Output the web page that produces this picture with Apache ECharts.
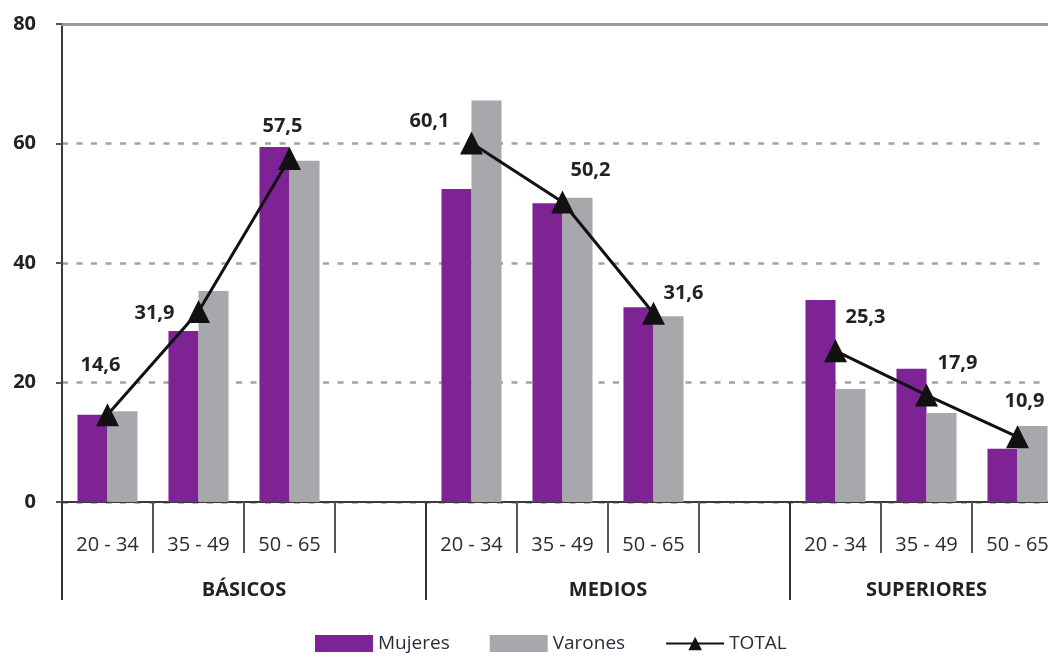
<!DOCTYPE html>
<html>
<head>
<meta charset="utf-8">
<script src="https://cdn.jsdelivr.net/npm/echarts@6/dist/echarts.min.js"></script>
<style>
  html, body { margin: 0; padding: 0; background: #fff; }
  #chart { width: 1048px; height: 659px; }
</style>
</head>
<body>
<div id="chart"></div>
<script>
// age bands per slot, an empty slot separates the groups
var ageSlots = ['20 - 34', '35 - 49', '50 - 65', '', '20 - 34', '35 - 49', '50 - 65', '', '20 - 34', '35 - 49', '50 - 65'];
var groups = ['BÁSICOS', 'MEDIOS', 'SUPERIORES'];
var yTicks = [0, 20, 40, 60, 80];

var mujeres = [14.6, 28.6, 59.4, null, 52.4, 50.0, 32.6, null, 33.8, 22.3, 8.9];
var varones = [15.2, 35.3, 57.1, null, 67.2, 50.9, 31.1, null, 18.9, 14.9, 12.7];
var total   = [14.6, 31.9, 57.5, null, 60.1, 50.2, 31.6, null, 25.3, 17.9, 10.9];

// where each TOTAL label sits relative to its marker
var labelOffsets = [[-7, -49], [-44, 2], [-7, -32], null, [-42, -22], [28, -32], [30, -20], null, [30, -34], [31, -32], [7, -36]];

var myChart = echarts.init(document.getElementById('chart'));

// second axis uses half slots so the group names land between slots
var groupSlots = [];
for (var i = 0; i <= ageSlots.length * 2; i++) groupSlots.push('');
groupSlots[4] = groups[0];
groupSlots[12] = groups[1];
groupSlots[19] = groups[2];
var groupTicks = [0, 8, 16, 22];

var totalData = total.map(function (v, i) {
    if (v === null) return '-';
    return { value: v, label: { offset: labelOffsets[i] } };
});

var font = 'Open Sans';

var option = {
    animation: false,
    textStyle: { fontFamily: font },
    grid: { left: 62, right: -15, top: 24, bottom: 157, outerBoundsMode: 'none', containLabel: false },
    legend: {
        bottom: 1,
        left: 310,
        itemWidth: 58,
        itemHeight: 17,
        itemGap: 40,
        textStyle: { fontSize: 19, color: '#2a2a3a', fontFamily: font },
        data: [
            { name: 'Mujeres', icon: 'rect' },
            { name: 'Varones', icon: 'rect' },
            { name: 'TOTAL' }
        ]
    },
    xAxis: [
        {
            type: 'category',
            data: ageSlots,
            position: 'bottom',
            axisLine: { lineStyle: { color: '#3a3a3a', width: 2 } },
            axisTick: { show: true, interval: 0, length: 51, lineStyle: { color: '#555', width: 2 } },
            axisLabel: { interval: 0, margin: 33, fontSize: 20, color: '#2a2a3a' }
        },
        {
            type: 'category',
            data: groupSlots,
            position: 'bottom',
            boundaryGap: false,
            axisLine: { show: false },
            axisTick: {
                show: true,
                length: 98,
                interval: function (idx) { return groupTicks.indexOf(idx) >= 0; },
                lineStyle: { color: '#333', width: 2 }
            },
            axisLabel: { interval: 0, margin: 78, fontSize: 20, fontWeight: 'bold', color: '#222' }
        },
        {
            type: 'category',
            data: ageSlots,
            position: 'top',
            axisLine: { lineStyle: { color: '#9a9a9a', width: 3 } },
            axisTick: { show: false },
            axisLabel: { show: false }
        }
    ],
    yAxis: {
        type: 'value',
        min: yTicks[0],
        max: yTicks[yTicks.length - 1],
        interval: 20,
        axisLine: { show: true, lineStyle: { color: '#3a3a3a', width: 2 } },
        axisTick: { show: true, length: 6, lineStyle: { color: '#555', width: 2 } },
        axisLabel: { margin: 26, fontSize: 20, fontWeight: 'bold', color: '#222' },
        splitLine: { lineStyle: { type: [6, 8.5], color: '#a3a3a3', width: 2.5 } }
    },
    series: [
        {
            name: 'Mujeres',
            type: 'bar',
            data: mujeres,
            barGap: 0,
            barCategoryGap: '34%',
            itemStyle: { color: '#7d2394' }
        },
        {
            name: 'Varones',
            type: 'bar',
            data: varones,
            itemStyle: { color: '#a7a8ab' }
        },
        {
            name: 'TOTAL',
            type: 'line',
            data: totalData,
            connectNulls: false,
            symbol: 'triangle',
            symbolSize: [23, 23],
            lineStyle: { color: '#111', width: 3 },
            itemStyle: { color: '#111' },
            label: {
                show: true,
                position: 'inside',
                fontSize: 20,
                fontWeight: 'bold',
                color: '#222',
                formatter: function (p) { return String(p.value).replace('.', ','); }
            },
            z: 5
        }
    ]
};

myChart.setOption(option);
</script>
</body>
</html>
